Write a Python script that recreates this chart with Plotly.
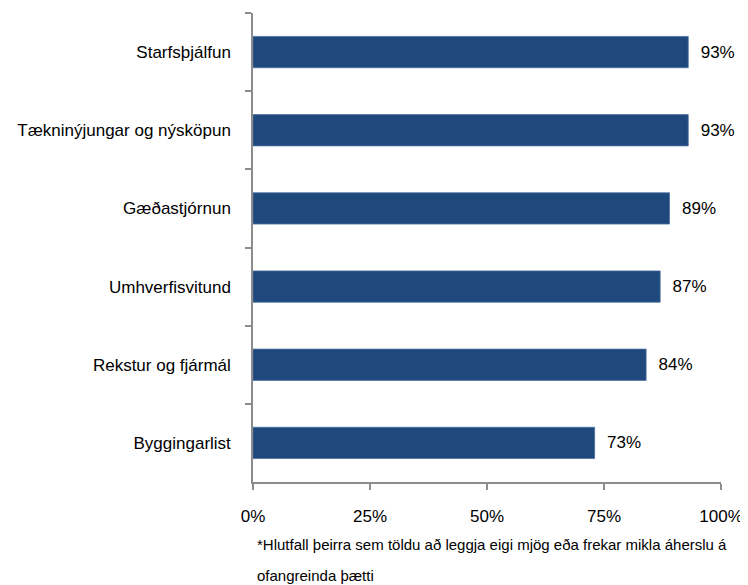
import plotly.graph_objects as go

categories = ["Starfsþjálfun", "Tækninýjungar og nýsköpun", "Gæðastjórnun",
              "Umhverfisvitund", "Rekstur og fjármál", "Byggingarlist"]
values = [93, 93, 89, 87, 84, 73]
x_ticks = [0, 25, 50, 75, 100]
x_tick_labels = ["0%", "25%", "50%", "75%", "100%"]
footnote_lines = ["*Hlutfall þeirra sem töldu að leggja eigi mjög eða frekar mikla áherslu á",
                  "ofangreinda þætti"]

FONT = "Liberation Sans Narrow, Arial Narrow, Liberation Sans, Arial, sans-serif"
AXIS = "#8c8c8c"

fig = go.Figure(go.Bar(
    x=values, y=categories, orientation="h",
    marker=dict(color="#1f497d", line=dict(color="#4a70a0", width=0.8)),
    text=[f"  {v}%" for v in values], textposition="outside",
    textfont=dict(family=FONT, size=17, color="#000000"),
    cliponaxis=False, width=0.4,
))

# the page body adds an 8px offset; compensate with a slightly smaller figure
fig.update_layout(
    width=740, height=577,
    margin=dict(l=245, r=24, t=5, b=103),
    plot_bgcolor="white", paper_bgcolor="white",
    font=dict(family=FONT, size=17, color="#000000"),
    showlegend=False,
    xaxis=dict(range=[0, 100], tickvals=x_ticks, ticktext=x_tick_labels,
               showgrid=False, zeroline=False, showline=True, linecolor=AXIS, linewidth=1.5,
               ticks="outside", ticklen=6, tickcolor=AXIS, tickwidth=1.5,
               ticklabelstandoff=12, tickfont=dict(family=FONT, size=17)),
    yaxis=dict(autorange="reversed", showgrid=False, zeroline=False,
               showline=True, linecolor=AXIS, linewidth=1.5,
               ticks="outside", ticklen=6, tickcolor=AXIS, tickwidth=1.5,
               tickson="boundaries", ticklabelstandoff=17,
               tickfont=dict(family=FONT, size=17)),
    annotations=[dict(text=line, xref="paper", yref="paper", x=0, y=0,
                      xanchor="left", yanchor="middle", yshift=shift, xshift=2,
                      showarrow=False, align="left",
                      font=dict(family=FONT, size=15, color="#000000"))
                 for line, shift in zip(footnote_lines, [-62, -93])],
)

fig.write_html("out.html")
